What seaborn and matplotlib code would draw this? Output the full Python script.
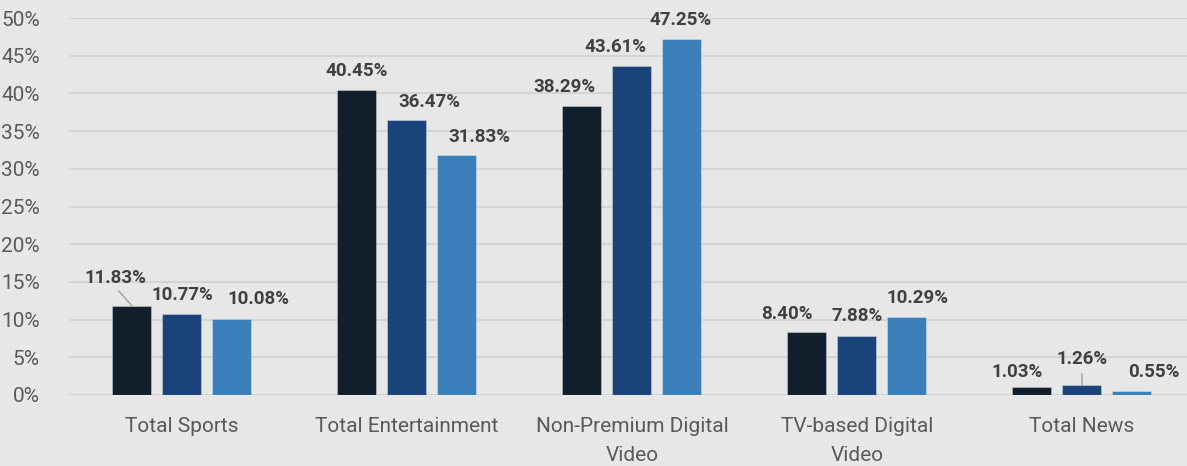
"""Share of viewing by content type, grouped bar chart."""

import pandas as pd
import matplotlib.pyplot as plt
import seaborn as sns

# ---------------------------------------------------------------------------
# Data
# ---------------------------------------------------------------------------
categories = [
    "Total Sports",
    "Total Entertainment",
    "Non-Premium Digital\nVideo",
    "TV-based Digital\nVideo",
    "Total News",
]
series_names = ["Series 1", "Series 2", "Series 3"]
series_1 = [11.83, 40.45, 38.29, 8.40, 1.03]
series_2 = [10.77, 36.47, 43.61, 7.88, 1.26]
series_3 = [10.08, 31.83, 47.25, 10.29, 0.55]
y_ticks = list(range(0, 55, 5))

# label offsets (pixels) from the top of each bar, same order as the series
label_offsets = [
    [(-17, 30), (0, 21.5), (-18, 21), (-20, 20), (-15, 17)],
    [(0, 21), (22, 20.5), (-16, 21), (0, 21.5), (0, 28.5)],
    [(27, 22), (22, 20), (-1, 21), (11, 21), (22, 21)],
]
leader_lines = {(0, 0), (1, 4)}

# ---------------------------------------------------------------------------
# Aesthetics
# ---------------------------------------------------------------------------
BG = "#e6e7e6"
GRID = "#d4d4d4"
PALETTE = ["#111e2b", "#1a4379", "#3a7fba"]
TICK_COLOR = "#595959"
LABEL_COLOR = "#404040"

sns.set_style("white")
plt.rcParams["font.family"] = ["Roboto", "DejaVu Sans"]


def build_frame() -> pd.DataFrame:
    rows = []
    for name, values in zip(series_names, [series_1, series_2, series_3]):
        for cat, v in zip(categories, values):
            rows.append({"category": cat, "series": name, "value": v})
    return pd.DataFrame(rows)


def plot_chart(df: pd.DataFrame):
    fig = plt.figure(figsize=(11.87, 4.66), dpi=100, facecolor=BG)
    ax = fig.add_axes([69 / 1187, 1 - 395 / 466, 1 - 69 / 1187, (395 - 18) / 466])
    ax.set_facecolor(BG)

    sns.barplot(data=df, x="category", y="value", hue="series",
                order=categories, hue_order=series_names, palette=PALETTE,
                saturation=1, width=2 / 3, gap=0.22,
                edgecolor=(1, 1, 1, 0.3), linewidth=0.8,
                legend=False, ax=ax, zorder=3)

    ax.set_ylim(0, 50)
    ax.set_xlim(-0.502, 4.467)
    ax.set_yticks(y_ticks)
    ax.set_yticklabels([f"{t}%" for t in y_ticks])
    ax.grid(axis="y", color=GRID, linewidth=1.5, zorder=0)
    ax.grid(axis="x", visible=False)
    for s in ax.spines.values():
        s.set_visible(False)
    ax.set_xlabel("")
    ax.set_ylabel("")
    ax.tick_params(axis="y", length=0, pad=21, labelsize=15, labelcolor=TICK_COLOR)
    ax.tick_params(axis="x", length=0, pad=16, labelsize=15, labelcolor=TICK_COLOR)
    for lbl in ax.get_xticklabels():
        lbl.set_linespacing(1.65)

    for si, container in enumerate(ax.containers):
        for ci, bar in enumerate(container.patches):
            h = bar.get_height()
            cx = bar.get_x() + bar.get_width() / 2
            dx, dy = label_offsets[si][ci]
            kw = {}
            if (si, ci) in leader_lines:
                kw["arrowprops"] = dict(arrowstyle="-", color="#a0a0a0", lw=1,
                                        relpos=(0.5, 0), patchA=None,
                                        shrinkA=4, shrinkB=0)
            ax.annotate(f"{h:.2f}%", xy=(cx, h), xytext=(dx, dy - 7),
                        textcoords="offset pixels", ha="center", va="baseline",
                        fontsize=13.5, fontweight="bold", color=LABEL_COLOR,
                        annotation_clip=False, zorder=4, **kw)

    fig.savefig("out.png", dpi=100, facecolor=BG)
    plt.close(fig)
    return fig


if __name__ == "__main__":
    plot_chart(build_frame())
